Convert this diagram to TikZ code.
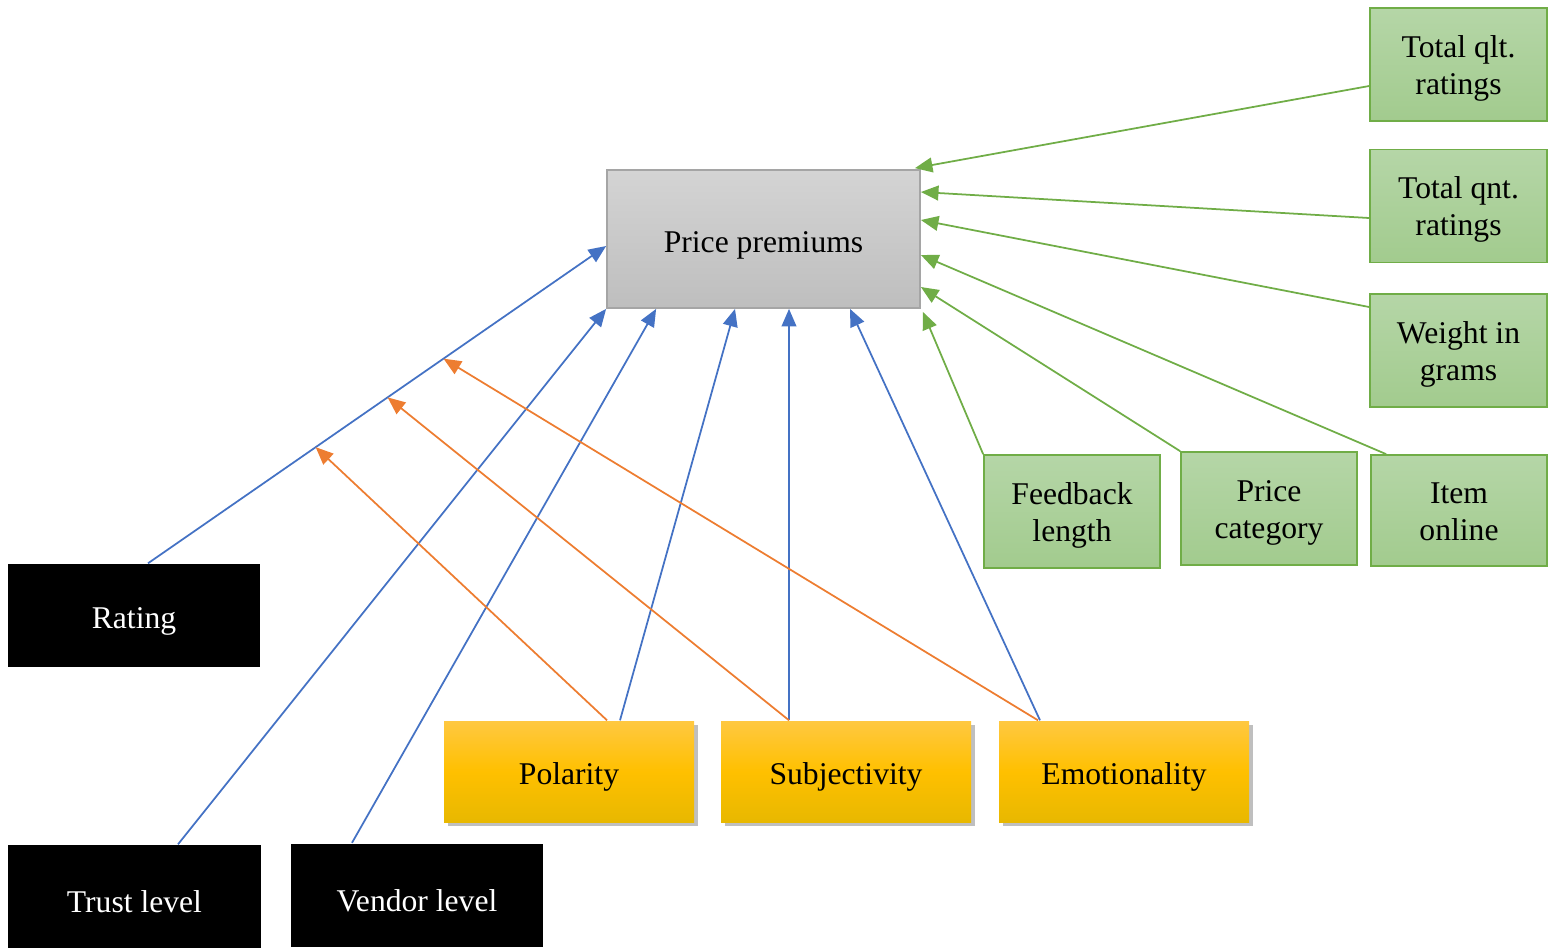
\documentclass[tikz,border=0pt]{standalone}
\usepackage{fontspec}
\setmainfont{Liberation Serif}
\usetikzlibrary{arrows.meta,shadows,calc}
\definecolor{cblue}{HTML}{4472C4}
\definecolor{corange}{HTML}{ED7D31}
\definecolor{cgreen}{HTML}{70AD47}
\definecolor{gtop}{HTML}{B5D6A7}
\definecolor{gbot}{HTML}{A2CB8E}
\definecolor{ytop}{HTML}{FFC841}
\definecolor{ymid}{HTML}{FFC000}
\definecolor{ybot}{HTML}{E8B800}
\definecolor{ptop}{HTML}{D4D4D4}
\definecolor{pbot}{HTML}{BEBEBE}
\definecolor{pbord}{HTML}{A5A5A5}
\begin{document}
\begin{tikzpicture}[
  font=\fontsize{9}{10.6}\selectfont,
  every node/.style={inner sep=0pt, align=center},
  lowtext/.style={execute at begin node={\rule{0pt}{9.4pt}}},
  ppbox/.style={lowtext, rectangle, draw=pbord, line width=0.5pt, top color=ptop, bottom color=pbot, minimum width=3.13cm, minimum height=1.38cm},
  gbox/.style={text height=19pt, text depth=2pt, rectangle, draw=cgreen, line width=0.5pt, top color=gtop, bottom color=gbot, minimum width=1.77cm, minimum height=1.13cm},
  bbox/.style={lowtext, rectangle, fill=black, text=white, minimum width=2.52cm, minimum height=1.03cm},
  ybox/.style={lowtext, rectangle, top color=ytop, bottom color=ybot, middle color=ymid, minimum width=2.5cm, minimum height=1.01cm,
     drop shadow={shadow xshift=0.035cm, shadow yshift=-0.04cm, fill=black, opacity=0.25}},
  conn/.style={line width=0.5pt, -{Triangle[length=5pt,width=4.2pt]}},
  gline/.style={conn, draw=cgreen, fill=cgreen},
  bline/.style={conn, draw=cblue, fill=cblue},
  oline/.style={conn, draw=corange, fill=corange}
]
\useasboundingbox (0,0) rectangle (15.48,-9.49);

% main node
\node[ppbox] (pp) at (7.635,-2.39) {Price premiums};

% green nodes
\node[gbox] (tql) at (14.585,-0.645) {Total qlt.\\ratings};
\node[gbox] (tqn) at (14.585,-2.06) {Total qnt.\\ratings};
\node[gbox] (wig) at (14.585,-3.505) {Weight in\\grams};
\node[gbox, minimum width=1.76cm] (fbl) at (10.72,-5.115) {Feedback\\length};
\node[gbox, minimum width=1.76cm] (pcat) at (12.69,-5.085) {Price\\category};
\node[gbox, minimum width=1.76cm, minimum height=1.11cm] (io) at (14.59,-5.105) {Item\\online};

% black nodes
\node[bbox] (rating) at (1.34,-6.155) {Rating};
\node[bbox] (trust) at (1.345,-8.965) {Trust level};
\node[bbox] (vendor) at (4.17,-8.95) {Vendor level};

% yellow nodes
\node[ybox] (pol) at (5.69,-7.715) {Polarity};
\node[ybox] (sub) at (8.46,-7.715) {Subjectivity};
\node[ybox] (emo) at (11.24,-7.715) {Emotionality};

% green connectors
\draw[gline] ([yshift=-0.215cm]tql.west) -- ([xshift=-0.06cm,yshift=0.01cm]pp.north east);
\draw[gline] ([yshift=-0.12cm]tqn.west) -- ([yshift=0.47cm]pp.east);
\draw[gline] ([yshift=0.435cm]wig.west) -- ([yshift=0.19cm]pp.east);
\draw[gline] ([xshift=0.16cm]io.north west) -- ([yshift=-0.16cm]pp.east);
\draw[gline] (pcat.north west) -- ([yshift=-0.48cm]pp.east);
\draw[gline] (fbl.north west) -- ([xshift=0.02cm,yshift=-0.03cm]pp.south east);

% blue connectors
\coordinate (ra) at ([xshift=0.14cm]rating.north);
\coordinate (rb) at ([yshift=-0.07cm]pp.west);
\draw[bline] (ra) -- (rb);
\draw[bline] ([xshift=0.435cm]trust.north) -- (pp.south west);
\draw[bline] ([xshift=-0.65cm]vendor.north) -- ([xshift=0.5cm]pp.south west);
\draw[bline] ([xshift=0.51cm]pol.north) -- ([xshift=-0.285cm]pp.south);
\draw[bline] ([xshift=-0.57cm]sub.north) -- ([xshift=0.255cm]pp.south);
\draw[bline] ([xshift=-0.84cm]emo.north) -- ([xshift=0.865cm]pp.south);

% orange connectors onto the Rating line
\path (ra) -- (rb) coordinate[pos=0.366] (r1) coordinate[pos=0.523] (r2) coordinate[pos=0.645] (r3);
\draw[oline] ([xshift=0.38cm]pol.north) -- (r1);
\draw[oline] ([xshift=-0.57cm]sub.north) -- (r2);
\draw[oline] ([xshift=-0.86cm]emo.north) -- (r3);
\end{tikzpicture}
\end{document}
